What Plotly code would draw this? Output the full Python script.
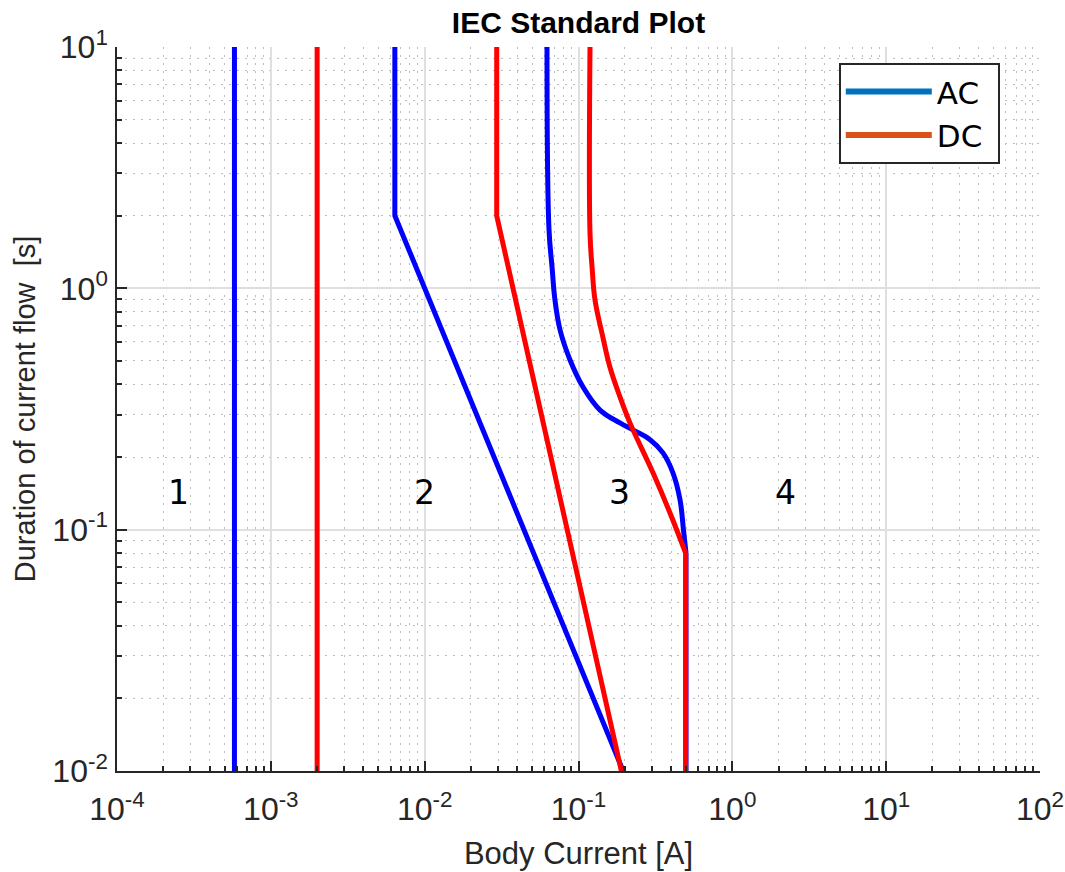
import numpy as np
import plotly.graph_objects as go

# ---------------- data ----------------
# curve a (vertical thresholds)
ac_a_x = [5.8e-4, 5.8e-4]
ac_a_y = [0.01, 10]
dc_a_x = [2.0e-3, 2.0e-3]
dc_a_y = [0.01, 10]

# curve b
ac_b_x = [0.0064, 0.0064, 0.195]
ac_b_y = [10, 2.0, 0.01]
dc_b_x = [0.0294, 0.0294, 0.19]
dc_b_y = [10, 2.0, 0.01]

# curve c1
ac_c_x = [0.0624, 0.0643, 0.0673, 0.0703, 0.0759, 0.0881, 0.107, 0.138, 0.186,
          0.226, 0.292, 0.354, 0.411, 0.457, 0.481, 0.5, 0.5]
ac_c_y = [10, 1.75, 1.226, 0.895, 0.672, 0.505, 0.390, 0.313, 0.277,
          0.259, 0.236, 0.208, 0.172, 0.133, 0.100, 0.080, 0.01]
dc_c_x = [0.1188, 0.1188, 0.1225, 0.128, 0.142, 0.160, 0.186, 0.216,
          0.305, 0.394, 0.497, 0.497]
dc_c_y = [10, 1.69, 1.226, 0.895, 0.653, 0.472, 0.355, 0.277,
          0.172, 0.117, 0.080, 0.01]

# zone labels
zone_text = ["1", "2", "3", "4"]
zone_x = [2.5e-4, 0.0099, 0.186, 2.2]
zone_y = [0.143, 0.143, 0.143, 0.143]

# tick labels
x_tickvals = [1e-4, 1e-3, 1e-2, 1e-1, 1e0, 1e1, 1e2]
x_ticktext = ["10<sup>-4</sup>", "10<sup>-3</sup>", "10<sup>-2</sup>", "10<sup>-1</sup>",
              "10<sup>0</sup>", "10<sup>1</sup>", "10<sup>2</sup>"]
y_tickvals = [1e-2, 1e-1, 1e0, 1e1]
y_ticktext = ["10<sup>-2</sup>", "10<sup>-1</sup>", "10<sup>0</sup>", "10<sup>1</sup>"]

legend_names = ["AC", "DC"]
legend_colors = ["#0072BD", "#D95319"]

BLUE = "#0000FF"
RED = "#FF0000"
LW = 5

fig = go.Figure()
for xs, ys, col in [(ac_a_x, ac_a_y, BLUE), (dc_a_x, dc_a_y, RED),
                    (ac_b_x, ac_b_y, BLUE), (dc_b_x, dc_b_y, RED)]:
    fig.add_trace(go.Scatter(x=xs, y=ys, mode="lines", showlegend=False,
                             line=dict(color=col, width=LW), hoverinfo="skip"))
# AC c1: smooth part, then straight vertical tail
fig.add_trace(go.Scatter(x=ac_c_x[:-1], y=ac_c_y[:-1], mode="lines", showlegend=False,
                         line=dict(color=BLUE, width=LW, shape="spline", smoothing=1.1),
                         hoverinfo="skip"))
fig.add_trace(go.Scatter(x=ac_c_x[-2:], y=ac_c_y[-2:], mode="lines", showlegend=False,
                         line=dict(color=BLUE, width=LW), hoverinfo="skip"))
# DC c1: smooth part down to the corner, then straight vertical
fig.add_trace(go.Scatter(x=dc_c_x[:-1], y=dc_c_y[:-1], mode="lines", showlegend=False,
                         line=dict(color=RED, width=LW, shape="spline", smoothing=1.1),
                         hoverinfo="skip"))
fig.add_trace(go.Scatter(x=dc_c_x[-2:], y=dc_c_y[-2:], mode="lines", showlegend=False,
                         line=dict(color=RED, width=LW), hoverinfo="skip"))

for name, col in zip(legend_names, legend_colors):
    fig.add_trace(go.Scatter(x=[None], y=[None], mode="lines", name=name + "\u00a0",
                             line=dict(color=col, width=6)))

for t, xv, yv in zip(zone_text, zone_x, zone_y):
    fig.add_annotation(x=np.log10(xv), y=np.log10(yv), text=t, showarrow=False,
                       font=dict(family="DejaVu Sans", size=33, color="#000000"),
                       xref="x", yref="y")

minor_x = [m * 10.0 ** e for e in range(-4, 2) for m in range(2, 10)]
minor_y = [m * 10.0 ** e for e in range(-2, 1) for m in range(2, 10)]

axis_common = dict(
    type="log", showline=True, linecolor="#262626", linewidth=1.5, mirror=False,
    ticks="inside", ticklen=10, tickcolor="#262626", tickwidth=1.5,
    showgrid=True, gridcolor="#DFDFDF", gridwidth=1.5, zeroline=False,
    automargin=False,
    tickfont=dict(family="Liberation Sans, Arial", size=32, color="#262626"),
)
minor_common = dict(tickmode="array", ticks="inside", ticklen=5, tickcolor="#262626",
                    showgrid=True, griddash="2px,6px", gridcolor="#BDBDBD", gridwidth=1.2)

fig.update_xaxes(
    range=[-4, 2], tickmode="array", tickvals=x_tickvals, ticktext=x_ticktext,
    minor=dict(tickvals=minor_x, **minor_common), ticklabelstandoff=9,
    title=dict(text="Body Current [A]", standoff=16,
               font=dict(family="Liberation Sans, Arial", size=31, color="#262626")),
    **axis_common)
fig.update_yaxes(
    range=[-2, 1], tickmode="array", tickvals=y_tickvals, ticktext=y_ticktext,
    minor=dict(tickvals=minor_y, **minor_common), ticklabelstandoff=1,
    title=dict(text="Duration of current flow\u00a0 [s]", standoff=8,
               font=dict(family="Liberation Sans, Arial", size=29, color="#262626")),
    **axis_common)

fig.update_layout(
    width=1065, height=872,
    margin=dict(l=117, r=25, t=47, b=101),
    paper_bgcolor="white", plot_bgcolor="white",
    title=dict(text="<b>IEC Standard Plot</b>", x=0.5, xref="paper",
               y=1 - 22 / 872, yref="container", yanchor="middle", xanchor="center",
               font=dict(family="Liberation Sans, Arial", size=30, color="#000000")),
    legend=dict(x=0.782, y=0.978, xanchor="left", yanchor="top", xref="paper", yref="paper",
                bgcolor="white", bordercolor="#262626", borderwidth=2,
                font=dict(family="DejaVu Sans", size=31, color="#000000"),
                itemwidth=86),
    showlegend=True,
)

fig.write_html("out.html")
